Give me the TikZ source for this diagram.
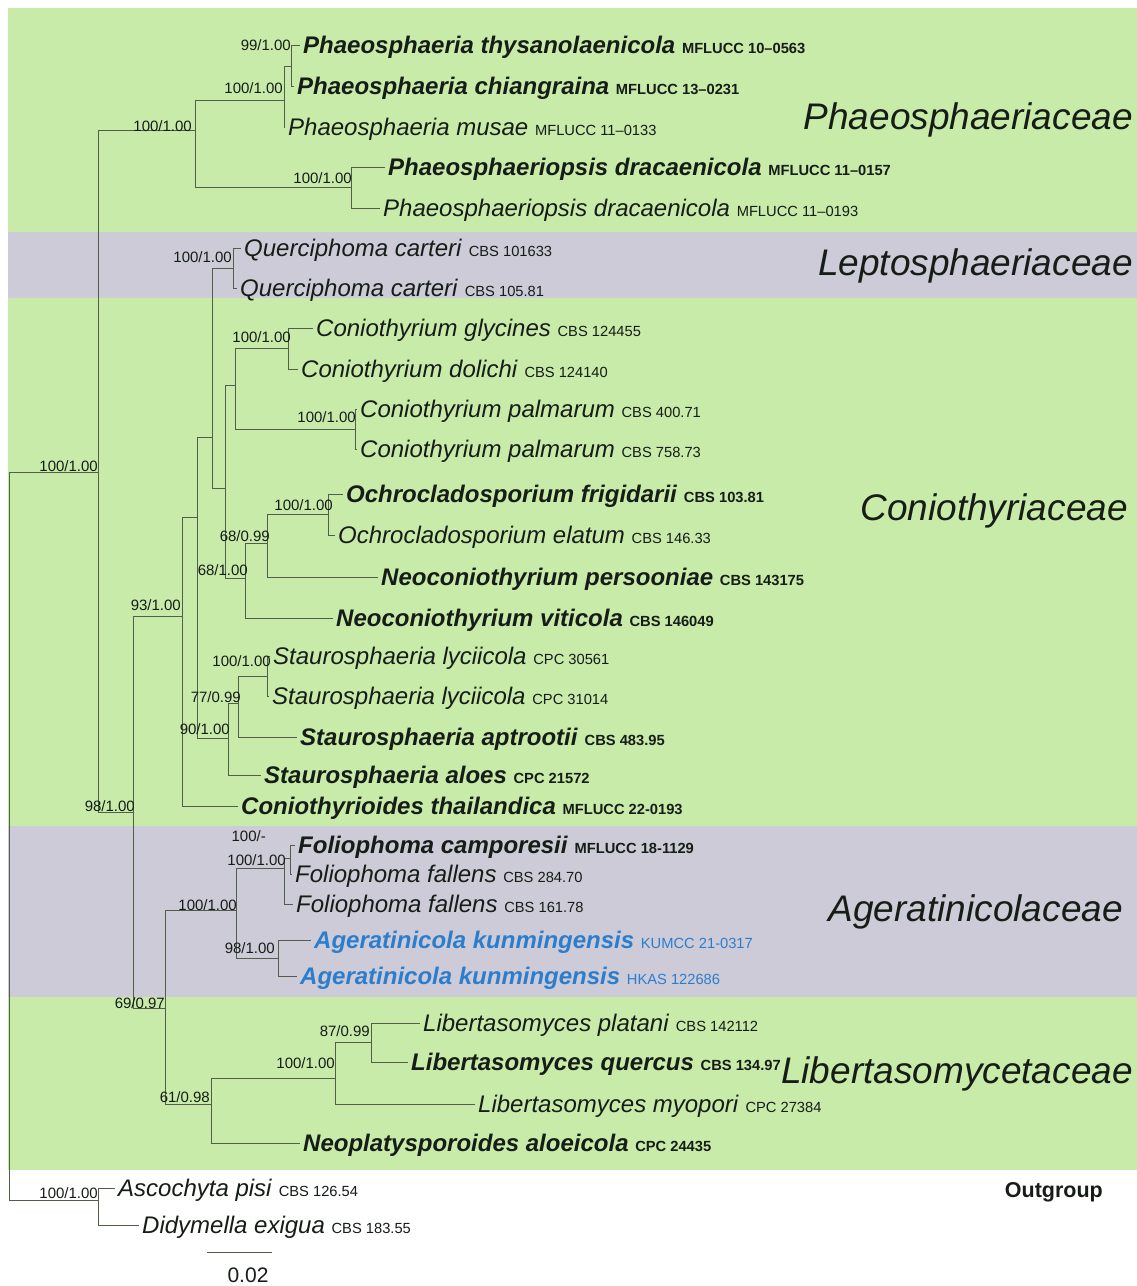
\documentclass[tikz,border=0pt]{standalone}
\usepackage{fontspec}
\setmainfont{Liberation Sans}

\definecolor{bandgreen}{RGB}{200,235,170}
\definecolor{bandgrey}{RGB}{204,203,215}
\definecolor{branchcol}{RGB}{80,94,74}
\definecolor{txtcol}{RGB}{22,28,22}
\definecolor{agblue}{RGB}{45,125,205}

% text helpers: species name in italics, strain code smaller and upright
\newcommand\strain[1]{{\fontsize{14.7}{16}\selectfont\upshape #1}}
\newcommand\bsp[2]{\textbf{\textit{#1}} \textbf{\strain{#2}}}
\newcommand\nsp[2]{\textit{#1} \strain{#2}}

\tikzset{
  branch/.style={draw=branchcol, line width=1pt},
  tiplabel/.style={anchor=base west, inner sep=0pt, text=txtcol,
                   font=\fontsize{24}{28}\selectfont},
  support/.style={anchor=base east, inner sep=0pt, text=txtcol,
                  font=\fontsize{15}{17}\selectfont},
  family/.style={anchor=base east, inner sep=0pt, text=txtcol,
                 font=\fontsize{37}{40}\selectfont\itshape},
}

% a leaf: end of its branch, then its label just right of it
\newcommand\leaf[4]{%
  \coordinate (#1) at (#2,#3);
  \node[tiplabel] (#1txt) at ([xshift=3pt,yshift=-8pt]#1) {#4};}

\begin{document}
\begin{tikzpicture}[x=1pt,y=-1pt]
\useasboundingbox (0,0) rectangle (1137,1286);

% ---------- family bands ----------
\fill[white] (0,0) rectangle (1137,1286);
\fill[bandgreen] (8,8)    rectangle (1137,232);
\fill[bandgrey]  (8,232)  rectangle (1137,298);
\fill[bandgreen] (8,298)  rectangle (1137,826);
\fill[bandgrey]  (8,826)  rectangle (1137,997);
\fill[bandgreen] (8,997)  rectangle (1137,1170);

% ---------- internal nodes ----------
\coordinate (R)     at (9,836);
\coordinate (I)     at (98,472);
\coordinate (OG)    at (98,1200);
\coordinate (A)     at (195,130);
\coordinate (B)     at (284,100);
\coordinate (D)     at (291,66);
\coordinate (C)     at (351,187);
\coordinate (N98)   at (133,812);
\coordinate (N93)   at (182,616);
\coordinate (P3)    at (197,517);
\coordinate (P1)    at (212,437);
\coordinate (Q)     at (233,268);
\coordinate (P2)    at (225,488);
\coordinate (C1)    at (235,385);
\coordinate (G)     at (288,348);
\coordinate (Pm)    at (355,429);
\coordinate (N68b)  at (245,578);
\coordinate (N68a)  at (267,543);
\coordinate (O)     at (328,514);
\coordinate (S90)   at (228,738);
\coordinate (S77)   at (238,703);
\coordinate (S100)  at (267,676);
\coordinate (N69)   at (165,1008);
\coordinate (N100A) at (236,910);
\coordinate (F)     at (284,868);
\coordinate (Fc)    at (290,858);
\coordinate (AG)    at (278,958);
\coordinate (N61)   at (211,1104);
\coordinate (N100L) at (335,1078);
\coordinate (N87)   at (371,1042);

% ---------- leaves ----------
\leaf{t1}{300}{45}{\bsp{Phaeosphaeria thysanolaenicola}{MFLUCC 10–0563}}
\leaf{t2}{294}{86}{\bsp{Phaeosphaeria chiangraina}{MFLUCC 13–0231}}
\leaf{t3}{285}{127}{\nsp{Phaeosphaeria musae}{MFLUCC 11–0133}}
\leaf{t4}{385}{167}{\bsp{Phaeosphaeriopsis dracaenicola}{MFLUCC 11–0157}}
\leaf{t5}{380}{208}{\nsp{Phaeosphaeriopsis dracaenicola}{MFLUCC 11–0193}}
\leaf{t6}{241}{248}{\nsp{Querciphoma carteri}{CBS 101633}}
\leaf{t7}{237}{288}{\nsp{Querciphoma carteri}{CBS 105.81}}
\leaf{t8}{313}{328}{\nsp{Coniothyrium glycines}{CBS 124455}}
\leaf{t9}{298}{369}{\nsp{Coniothyrium dolichi}{CBS 124140}}
\leaf{t10}{357}{409}{\nsp{Coniothyrium palmarum}{CBS 400.71}}
\leaf{t11}{357}{449}{\nsp{Coniothyrium palmarum}{CBS 758.73}}
\leaf{t12}{343}{494}{\bsp{Ochrocladosporium frigidarii}{CBS 103.81}}
\leaf{t13}{335}{535}{\nsp{Ochrocladosporium elatum}{CBS 146.33}}
\leaf{t14}{378}{577}{\bsp{Neoconiothyrium persooniae}{CBS 143175}}
\leaf{t15}{333}{618}{\bsp{Neoconiothyrium viticola}{CBS 146049}}
\leaf{t16}{270}{656}{\nsp{Staurosphaeria lyciicola}{CPC 30561}}
\leaf{t17}{269}{696}{\nsp{Staurosphaeria lyciicola}{CPC 31014}}
\leaf{t18}{297}{737}{\bsp{Staurosphaeria aptrootii}{CBS 483.95}}
\leaf{t19}{261}{775}{\bsp{Staurosphaeria aloes}{CPC 21572}}
\leaf{t20}{238}{806}{\bsp{Coniothyrioides thailandica}{MFLUCC 22-0193}}
\leaf{t21}{295}{845}{\bsp{Foliophoma camporesii}{MFLUCC 18-1129}}
\leaf{t22}{292}{874}{\nsp{Foliophoma fallens}{CBS 284.70}}
\leaf{t23}{293}{904}{\nsp{Foliophoma fallens}{CBS 161.78}}
\leaf{t24}{311}{940}{\color{agblue}\textbf{\textit{Ageratinicola kunmingensis}} \strain{KUMCC 21-0317}}
\leaf{t25}{297}{976}{\color{agblue}\textbf{\textit{Ageratinicola kunmingensis}} \strain{HKAS 122686}}
\leaf{t26}{420}{1023}{\nsp{Libertasomyces platani}{CBS 142112}}
\leaf{t27}{408}{1062}{\bsp{Libertasomyces quercus}{CBS 134.97}}
\leaf{t28}{475}{1104}{\nsp{Libertasomyces myopori}{CPC 27384}}
\leaf{t29}{300}{1143}{\bsp{Neoplatysporoides aloeicola}{CPC 24435}}
\leaf{t30}{115}{1188}{\nsp{Ascochyta pisi}{CBS 126.54}}
\leaf{t31}{139}{1225}{\nsp{Didymella exigua}{CBS 183.55}}

% ---------- branches ----------
\foreach \p/\c in {R/I, R/OG, I/A, I/N98, A/B, A/C, B/D, B/t3, D/t1, D/t2,
    C/t4, C/t5, N98/N93, N98/N69, N93/P3, N93/t20, P3/P1, P3/S90,
    P1/Q, P1/P2, Q/t6, Q/t7, P2/C1, P2/N68b, C1/G, C1/Pm, G/t8, G/t9,
    Pm/t10, Pm/t11, N68b/N68a, N68b/t15, N68a/O, N68a/t14, O/t12, O/t13,
    S90/S77, S90/t19, S77/S100, S77/t18, S100/t16, S100/t17,
    N69/N100A, N69/N61, N100A/F, N100A/AG, F/Fc, F/t23, Fc/t21, Fc/t22,
    AG/t24, AG/t25, N61/N100L, N61/t29, N100L/N87, N100L/t28,
    N87/t26, N87/t27, OG/t30, OG/t31}
  \draw[branch] (\p) |- (\c);

% ---------- support values (ML bootstrap / posterior probability) ----------
\node[support] (s1)  at (291,50)   {99/1.00};
\node[support] (s2)  at (283,93)   {100/1.00};
\node[support] (s3)  at (192,131)  {100/1.00};
\node[support] (s4)  at (352,183)  {100/1.00};
\node[support] (s5)  at (232,262)  {100/1.00};
\node[support] (s6)  at (291,342)  {100/1.00};
\node[support] (s7)  at (356,422)  {100/1.00};
\node[support] (s8)  at (98,471)   {100/1.00};
\node[support] (s9)  at (333,510)  {100/1.00};
\node[support] (s10) at (270,541)  {68/0.99};
\node[support] (s11) at (248,575)  {68/1.00};
\node[support] (s12) at (181,610)  {93/1.00};
\node[support] (s13) at (271,666)  {100/1.00};
\node[support] (s14) at (241,702)  {77/0.99};
\node[support] (s15) at (230,734)  {90/1.00};
\node[support] (s16) at (135,811)  {98/1.00};
\node[support] (s17) at (266,841)  {100/-};
\node[support] (s18) at (286,865)  {100/1.00};
\node[support] (s19) at (237,910)  {100/1.00};
\node[support] (s20) at (275,953)  {98/1.00};
\node[support] (s21) at (165,1008) {69/0.97};
\node[support] (s22) at (370,1036) {87/0.99};
\node[support] (s23) at (335,1068) {100/1.00};
\node[support] (s24) at (210,1102) {61/0.98};
\node[support] (s25) at (98,1198)  {100/1.00};

% ---------- family names ----------
\node[family] (fam1) at (1133,129)  {Phaeosphaeriaceae};
\node[family] (fam2) at (1133,275)  {Leptosphaeriaceae};
\node[family] (fam3) at (1128,520)  {Coniothyriaceae};
\node[family] (fam4) at (1123,921)  {Ageratinicolaceae};
\node[family] (fam5) at (1133,1083) {Libertasomycetaceae};
\node[anchor=base east, inner sep=0pt, text=txtcol,
      font=\fontsize{21.5}{23}\selectfont\bfseries] (fam6) at (1103,1197) {Outgroup};

% ---------- scale bar ----------
\coordinate (sbL) at (207,1252);
\coordinate (sbR) at (272,1252);
\draw[branchcol, line width=1pt] (sbL) -- (sbR);
\node[anchor=base, inner sep=0pt, text=txtcol, font=\fontsize{21}{23}\selectfont]
  (sbtxt) at (248,1282) {0.02};
\end{tikzpicture}
\end{document}
